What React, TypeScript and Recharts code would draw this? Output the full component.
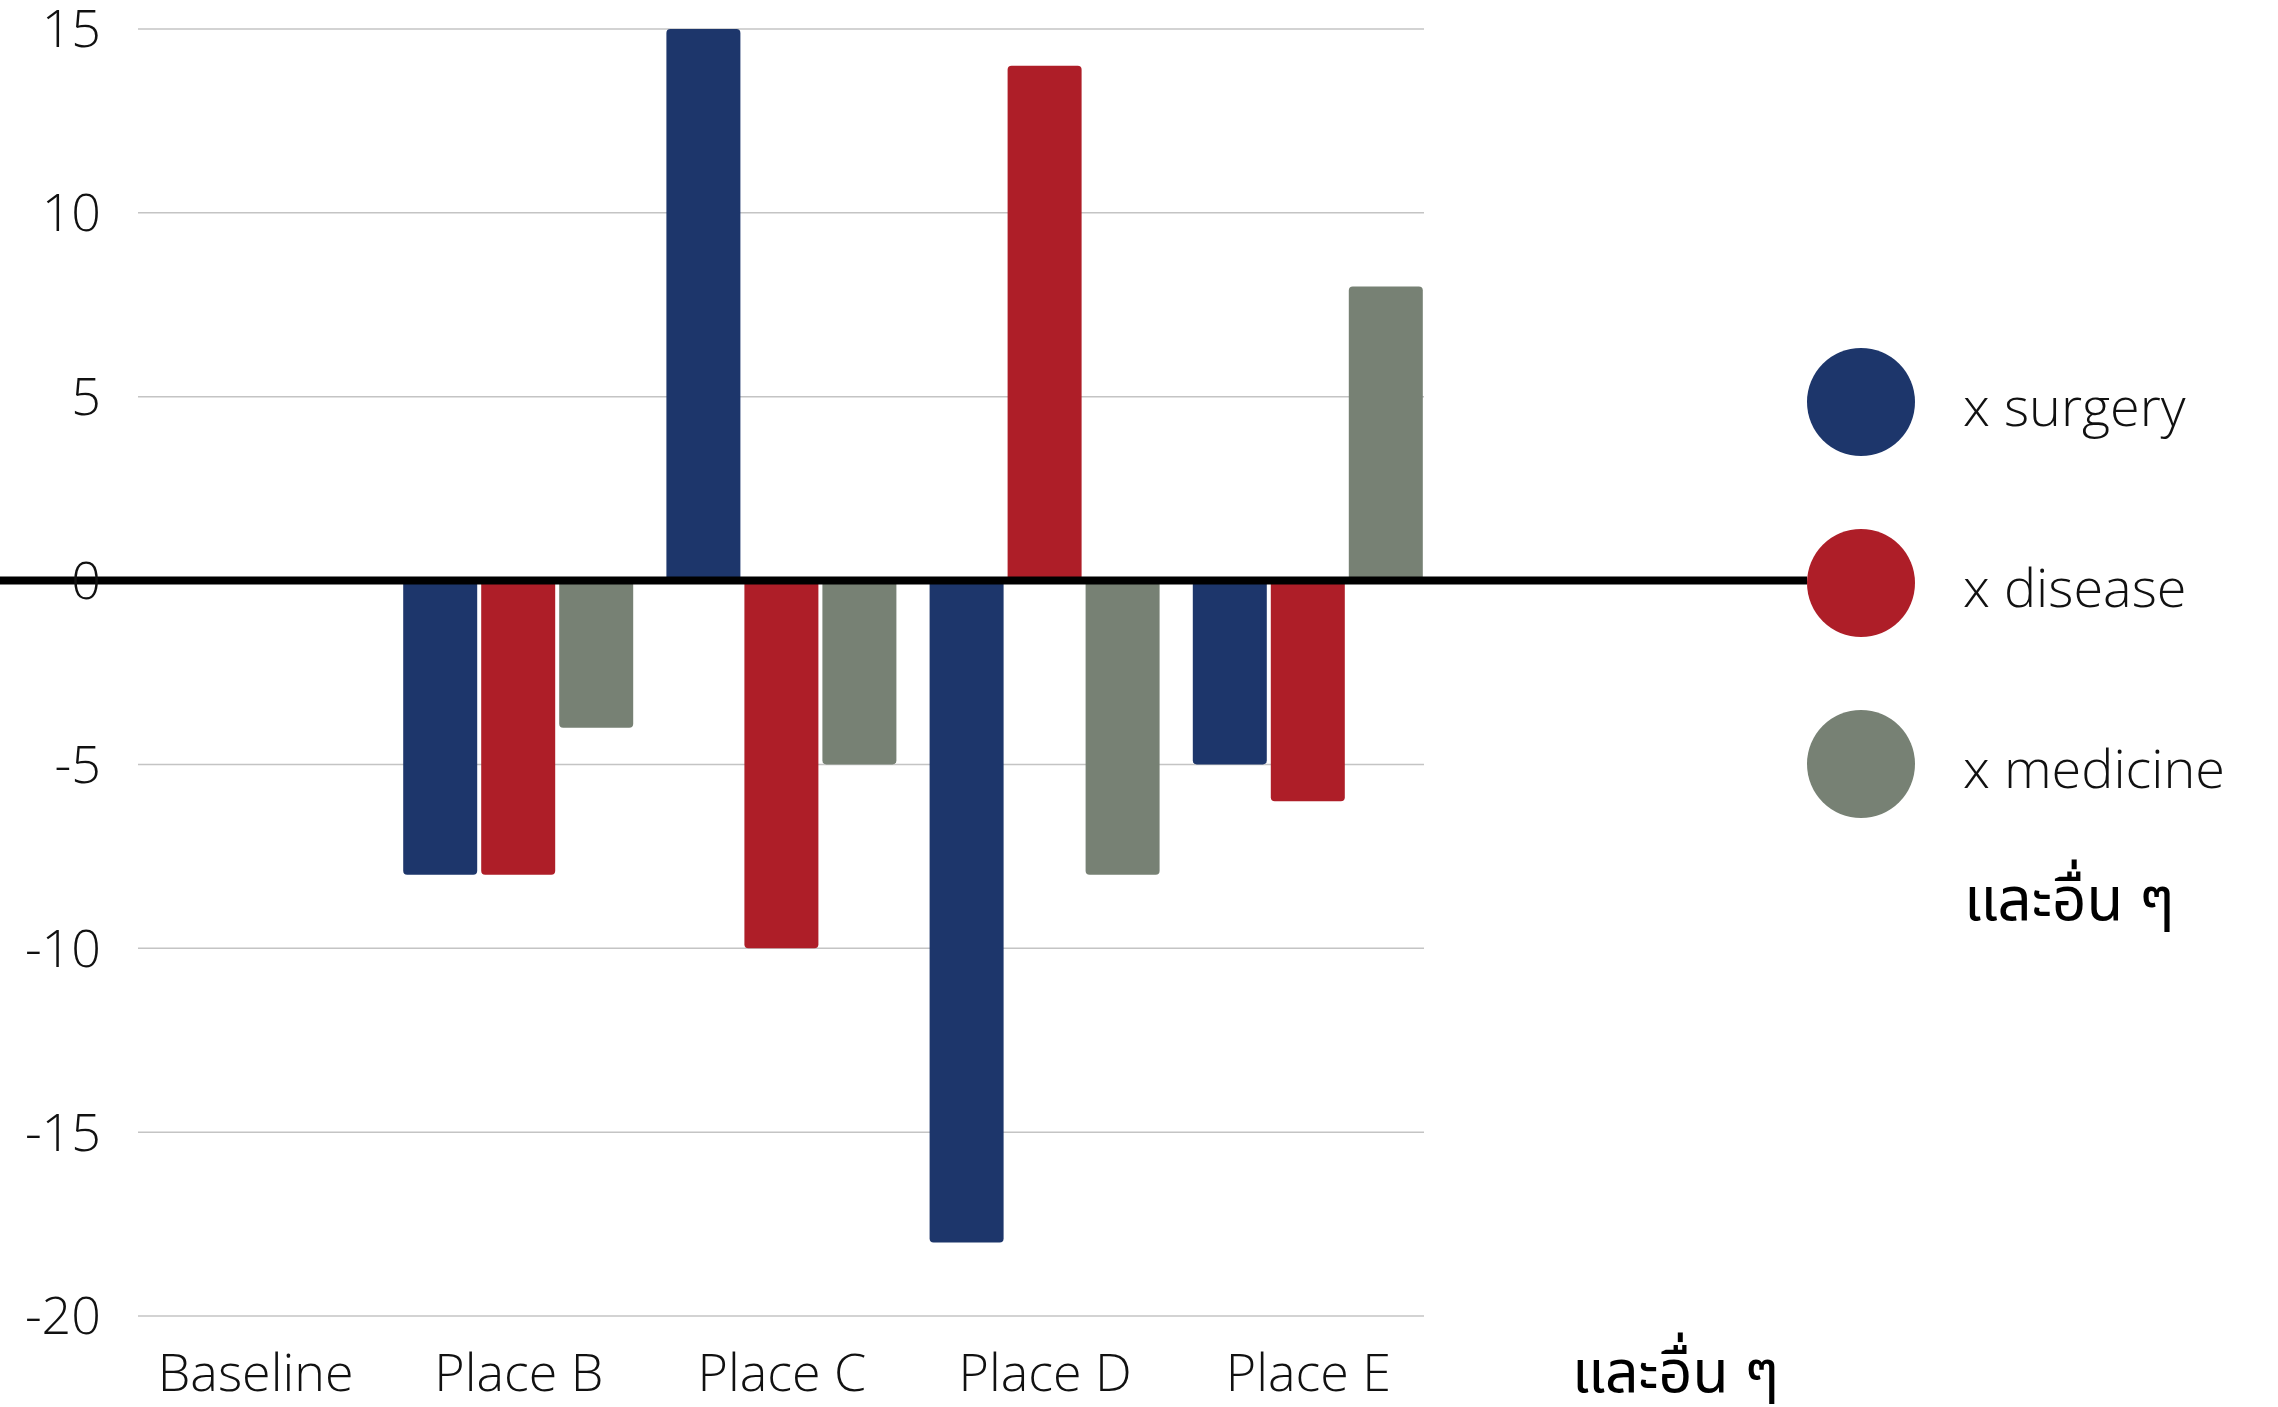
import React from 'react';
import { BarChart, Bar, XAxis, YAxis, CartesianGrid, ReferenceLine, Legend, Customized } from 'recharts';

const categories = ['Baseline', 'Place B', 'Place C', 'Place D', 'Place E'];
const surgery = [null, -8, 15, -18, -5];
const disease = [null, -8, -10, 14, -6];
const medicine = [null, -4, -5, -8, 8];
const yTicks = [-20, -15, -10, -5, 0, 5, 10, 15];
const seriesNames = ['x surgery', 'x disease', 'x medicine'];
const seriesColors = ['#1D366B', '#AE1E28', '#778174'];
const otherLabel = 'และอื่น ๆ';

const data = categories.map((name, i) => ({
  name,
  surgery: surgery[i],
  disease: disease[i],
  medicine: medicine[i],
}));

const W = 2278;
const H = 1407;
const FONT = "'Open Sans', 'Noto Sans', sans-serif";
const THAI_FONT = "'Noto Sans Thai', 'Noto Sans', 'Open Sans', sans-serif";
const LEGEND_LEFT = 1800;
const LEGEND_TOP = 340;
const CIRCLE_R = 54;
const LINE_END = LEGEND_LEFT + 61 - CIRCLE_R;

const LegendContent = (props: any) => {
  const payload = [...(props.payload || [])].sort(
    (a: any, b: any) => seriesNames.indexOf(a.value) - seriesNames.indexOf(b.value)
  );
  return (
    <svg width={478} height={620} style={{ display: 'block', overflow: 'visible' }}>
      {payload.map((p: any, i: number) => (
        <g key={i}>
          <circle cx={61} cy={62 + i * 181} r={CIRCLE_R} fill={p.color} />
          <text x={163} y={86 + i * 181} fontFamily={FONT} fontWeight={300} fontSize={54} fill="#111">
            {p.value}
          </text>
        </g>
      ))}
      <text x={164} y={580} fontFamily={THAI_FONT} fontWeight={400} fontSize={60} fill="#000">
        {otherLabel}
      </text>
    </svg>
  );
};

export default function App() {
  return (
    <div style={{ position: 'absolute', left: 0, top: 0, width: W, height: H, background: '#fff' }}>
      <BarChart
        width={W}
        height={H}
        data={data}
        margin={{ top: 29, right: 854, bottom: 0, left: 0 }}
        barCategoryGap={16}
        barGap={4}
      >
        <CartesianGrid vertical={false} stroke="#c4c4c4" strokeWidth={1.5} />
        <XAxis
          dataKey="name"
          tickLine={false}
          axisLine={false}
          tickMargin={32}
          height={91}
          interval={0}
          padding={{ left: -14, right: -16 }}
          tick={{ fontFamily: FONT, fontWeight: 300, fontSize: 52, fill: '#111' }}
        />
        <YAxis
          domain={[-20, 15]}
          ticks={yTicks}
          interval={0}
          tickLine={false}
          axisLine={false}
          width={138}
          tickMargin={31}
          tick={{ fontFamily: FONT, fontWeight: 300, fontSize: 52, fill: '#111' }}
        />
        <Bar dataKey="surgery" name={seriesNames[0]} fill={seriesColors[0]} radius={4} isAnimationActive={false} />
        <Bar dataKey="disease" name={seriesNames[1]} fill={seriesColors[1]} radius={4} isAnimationActive={false} />
        <Bar dataKey="medicine" name={seriesNames[2]} fill={seriesColors[2]} radius={4} isAnimationActive={false} />
        <ReferenceLine
          y={0}
          ifOverflow="visible"
          shape={(p: any) => (
            <line x1={0} y1={p.y1} x2={LINE_END} y2={p.y2} stroke="#000" strokeWidth={8} />
          )}
        />
        <Legend
          layout="vertical"
          align="center"
          verticalAlign="middle"
          content={<LegendContent />}
          wrapperStyle={{ position: 'absolute', left: LEGEND_LEFT, top: LEGEND_TOP, width: 478, height: 620 }}
        />
        <Customized
          component={() => (
            <text x={1572} y={1392} fontFamily={THAI_FONT} fontWeight={400} fontSize={59} fill="#000">
              {otherLabel}
            </text>
          )}
        />
      </BarChart>
    </div>
  );
}
